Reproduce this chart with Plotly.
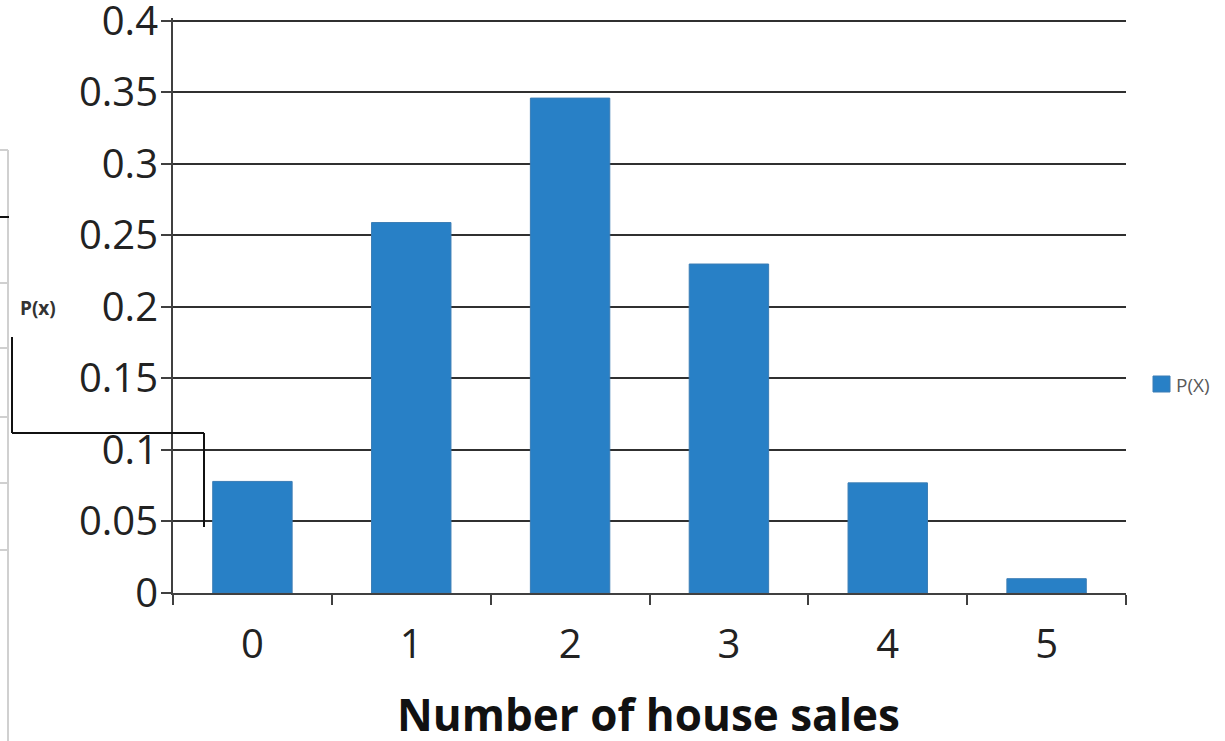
import plotly.graph_objects as go

# Probability distribution of the number of house sales
sales = ["0", "1", "2", "3", "4", "5"]
prob = [0.078, 0.259, 0.346, 0.230, 0.077, 0.010]

y_ticks = [0, 0.05, 0.1, 0.15, 0.2, 0.25, 0.3, 0.35, 0.4]
y_tick_text = ["0", "0.05", "0.1", "0.15", "0.2", "0.25", "0.3", "0.35", "0.4"]
series_name = "P(X)"

W, H = 1225, 741
Y_MAX = 0.402
L, R, T, B = 173, 99, 18, 148
FONT = "Open Sans"
AXIS = "#404040"

fig = go.Figure()
fig.add_trace(go.Bar(
    x=sales, y=prob, name=series_name, showlegend=False,
    marker=dict(color="#2880c6", line=dict(color="#3b7db5", width=1)),
))

fig.update_layout(
    width=W, height=H,
    margin=dict(l=L, r=R, t=T, b=B, pad=0, autoexpand=False),
    plot_bgcolor="white", paper_bgcolor="white",
    bargap=0.5,
    font=dict(family=FONT, color="#222222"),
)

fig.update_xaxes(
    type="category", tickson="boundaries",
    ticks="outside", ticklen=10, tickwidth=2, tickcolor=AXIS,
    showline=True, linecolor=AXIS, linewidth=2,
    showgrid=False, tickfont=dict(family=FONT, size=40, color="#222222"),
    ticklabelstandoff=15,
)
fig.update_yaxes(
    range=[0, Y_MAX], tickvals=y_ticks, ticktext=y_tick_text,
    ticks="outside", ticklen=10, tickwidth=2, tickcolor=AXIS,
    showline=True, linecolor=AXIS, linewidth=2,
    showgrid=True, gridcolor="#303030", gridwidth=2,
    zeroline=False, ticklabeloverflow="allow",
    tickfont=dict(family=FONT, size=40, color="#222222"),
    ticklabelstandoff=-5,
)

PW, PH = W - L - R, H - T - B

def px_x(x):
    return (x - L) / PW

def px_y(y):
    return (H - B - y) / PH

# legend key
fig.add_shape(type="rect", xref="paper", yref="paper",
              x0=px_x(1153), x1=px_x(1170), y0=px_y(392), y1=px_y(376),
              fillcolor="#2880c6", line=dict(color="#3b7db5", width=1))
fig.add_annotation(
    text=series_name, xref="paper", yref="paper",
    x=px_x(1174), y=px_y(385), showarrow=False,
    xanchor="left", yanchor="middle",
    font=dict(family=FONT, size=19, color="#595959"),
)

# x-axis title
fig.add_annotation(
    text="<b>Number of house sales</b>", xref="paper", yref="paper",
    x=px_x(648), y=px_y(714),
    showarrow=False, xanchor="center", yanchor="middle",
    font=dict(family=FONT, size=44, color="#111111"),
)

# side label and connector lines from the worksheet beside the chart
fig.add_annotation(
    text="<b>P(x)</b>", xref="paper", yref="paper",
    x=px_x(38), y=px_y(308),
    showarrow=False, xanchor="center", yanchor="middle",
    font=dict(family=FONT, size=19, color="#333333"),
)

def px_line(x0, y0, x1, y1, color, width):
    fig.add_shape(
        type="line", xref="paper", yref="paper",
        x0=px_x(x0), x1=px_x(x1), y0=px_y(y0), y1=px_y(y1),
        line=dict(color=color, width=width), layer="above",
    )

# worksheet cell borders
px_line(8, 150, 8, 741, "#d0d0d0", 2)
for yy in [150, 283, 348, 417, 483, 550]:
    px_line(0, yy, 8, yy, "#d0d0d0", 2)
px_line(0, 217, 9, 217, "#111111", 2)

# bracket connector
px_line(12, 337, 12, 433, "#111111", 2)
px_line(12, 433, 204, 433, "#111111", 2)
px_line(204, 433, 204, 527, "#111111", 2)

fig.write_html("out.html")
